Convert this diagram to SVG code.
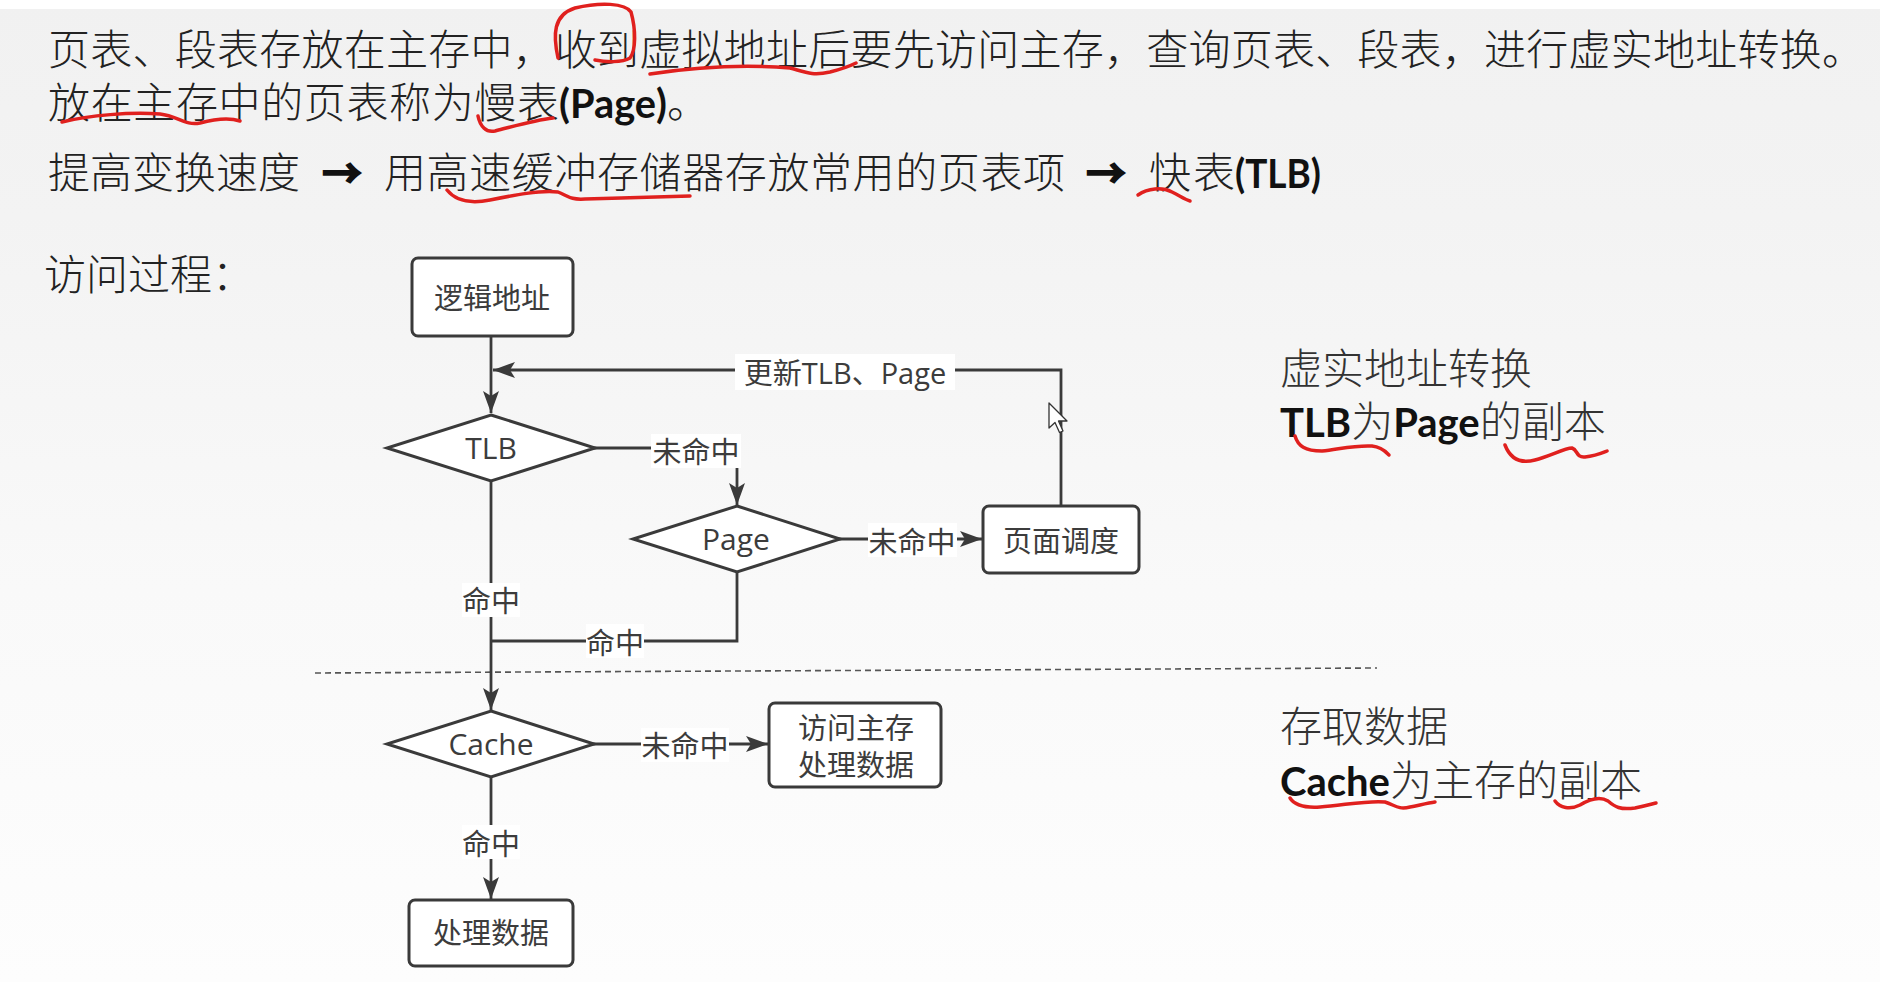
<svg xmlns="http://www.w3.org/2000/svg" width="1880" height="982" viewBox="0 0 1880 982">
  <defs>
    <linearGradient id="bg" x1="0" y1="0" x2="0" y2="982" gradientUnits="userSpaceOnUse">
      <stop offset="0" stop-color="#f1f1f1"/>
      <stop offset="0.22" stop-color="#f3f3f3"/>
      <stop offset="0.6" stop-color="#f9f9f9"/>
      <stop offset="1" stop-color="#fdfdfd"/>
    </linearGradient>
    <marker id="arrow" markerUnits="userSpaceOnUse" markerWidth="24" markerHeight="18" refX="22" refY="8" orient="auto">
      <path d="M0,0 L22,8 L0,16 L5,8 z" fill="#3a3a3a"/>
    </marker>
    <style>
      .body { font-family: "Noto Sans CJK SC", sans-serif; font-size: 42px; font-weight: 300; fill: #222; }
      .side { font-family: "Noto Sans CJK SC", sans-serif; font-size: 42px; font-weight: 300; fill: #333; }
      .bold { font-family: Lato, "Noto Sans CJK SC", sans-serif; font-weight: 700; fill: #111; }
      .arrowchar { font-family: "Noto Sans CJK SC", sans-serif; font-size: 40px; font-weight: 700; fill: #111; stroke: #111; stroke-width: 1.6; }
      .box { fill: #ffffff; stroke: #3a3a3a; stroke-width: 3; }
      .diamond { fill: #ffffff; stroke: #3a3a3a; stroke-width: 3; stroke-linejoin: miter; }
      .nt { font-family: "Open Sans", "Noto Sans CJK SC", sans-serif; font-size: 29px; fill: #3c3c3c; text-anchor: middle; dominant-baseline: central; }
      .nl { font-family: "Open Sans", "Noto Sans CJK SC", sans-serif; font-size: 30px; fill: #3c3c3c; text-anchor: middle; dominant-baseline: central; }
      .edge { fill: none; stroke: #3a3a3a; stroke-width: 2.8; }
      .lblbg { fill: #ffffff; }
      .lbl { font-family: "Open Sans", "Noto Sans CJK SC", sans-serif; font-size: 29px; fill: #3c3c3c; text-anchor: middle; dominant-baseline: central; }
      .ink { fill: none; stroke: #e0201e; stroke-width: 3.5; stroke-linecap: round; stroke-linejoin: round; }
    </style>
  </defs>

  <!-- slide background -->
  <rect x="0" y="0" width="1880" height="982" fill="#ffffff"/>
  <rect x="0" y="9" width="1880" height="973" fill="url(#bg)"/>

  <!-- heading paragraph -->
  <g id="intro">
    <text class="body" x="48" y="65" textLength="1816" lengthAdjust="spacing">页表、段表存放在主存中，收到虚拟地址后要先访问主存，查询页表、段表，进行虚实地址转换。</text>
    <text class="body" y="118"><tspan x="48" textLength="511" lengthAdjust="spacing">放在主存中的页表称为慢表</tspan><tspan class="bold" x="559" font-size="40" textLength="108" lengthAdjust="spacingAndGlyphs">(Page)</tspan><tspan x="667">。</tspan></text>
    <text class="body" y="188"><tspan x="48" textLength="252" lengthAdjust="spacing">提高变换速度</tspan><tspan class="arrowchar" x="322">→</tspan><tspan x="384" textLength="681" lengthAdjust="spacing">用高速缓冲存储器存放常用的页表项</tspan><tspan class="arrowchar" x="1086">→</tspan><tspan x="1149" textLength="86" lengthAdjust="spacing">快表</tspan><tspan class="bold" x="1235" font-size="40" textLength="86" lengthAdjust="spacingAndGlyphs">(TLB)</tspan></text>
    <text class="body" x="44" y="290">访问过程：</text>
  </g>

  <!-- side notes -->
  <g id="note-translate">
    <text class="side" x="1280" y="384">虚实地址转换</text>
    <text class="side" x="1280" y="437"><tspan class="bold" font-size="40">TLB</tspan>为<tspan class="bold" font-size="40">Page</tspan>的副本</text>
  </g>
  <g id="note-access">
    <text class="side" x="1280" y="742">存取数据</text>
    <text class="side" x="1280" y="796"><tspan class="bold" font-size="40">Cache</tspan>为主存的副本</text>
  </g>

  <!-- dashed separator between translation and data access -->
  <line x1="315" y1="673" x2="1377" y2="668" stroke="#555" stroke-width="1.6" stroke-dasharray="6 4"/>

  <!-- connectors -->
  <g id="connectors">
    <path class="edge" d="M491,336 V413" marker-end="url(#arrow)"/>
    <path class="edge" d="M1061,506 V370 H493" marker-end="url(#arrow)"/>
    <path class="edge" d="M594,448 H737 V505" marker-end="url(#arrow)"/>
    <path class="edge" d="M839,539 H982" marker-end="url(#arrow)"/>
    <path class="edge" d="M491,482 V710" marker-end="url(#arrow)"/>
    <path class="edge" d="M737,572 V641 H491"/>
    <path class="edge" d="M593,744 H768" marker-end="url(#arrow)"/>
    <path class="edge" d="M491,777 V899" marker-end="url(#arrow)"/>

    <g id="label-update">
      <rect class="lblbg" x="735" y="354" width="220" height="36"/>
      <text class="lbl" x="845" y="372" font-size="30">更新TLB、Page</text>
    </g>
    <g id="label-tlb-miss">
      <rect class="lblbg" x="651" y="434" width="90" height="34"/>
      <text class="lbl" x="696" y="451">未命中</text>
    </g>
    <g id="label-page-miss">
      <rect class="lblbg" x="868" y="523" width="89" height="34"/>
      <text class="lbl" x="912" y="541">未命中</text>
    </g>
    <g id="label-tlb-hit">
      <rect class="lblbg" x="462" y="583" width="58" height="34"/>
      <text class="lbl" x="491" y="600">命中</text>
    </g>
    <g id="label-page-hit">
      <rect class="lblbg" x="586" y="624" width="58" height="34"/>
      <text class="lbl" x="615" y="642">命中</text>
    </g>
    <g id="label-cache-miss">
      <rect class="lblbg" x="641" y="728" width="88" height="34"/>
      <text class="lbl" x="685" y="745">未命中</text>
    </g>
    <g id="label-cache-hit">
      <rect class="lblbg" x="462" y="825" width="58" height="34"/>
      <text class="lbl" x="491" y="843">命中</text>
    </g>
  </g>

  <!-- nodes -->
  <g id="node-logical">
    <rect class="box" x="412" y="258" width="161" height="78" rx="6"/>
    <text class="nt" x="492" y="297">逻辑地址</text>
  </g>
  <g id="node-tlb">
    <polygon class="diamond" points="491,415 595,448 491,481 387,448"/>
    <text class="nl" x="491" y="447">TLB</text>
  </g>
  <g id="node-page">
    <polygon class="diamond" points="737,506 840,539 737,572 633,539"/>
    <text class="nl" x="736" y="538">Page</text>
  </g>
  <g id="node-swap">
    <rect class="box" x="983" y="506" width="156" height="67" rx="6"/>
    <text class="nt" x="1061" y="540">页面调度</text>
  </g>
  <g id="node-cache">
    <polygon class="diamond" points="491,711 594,744 491,777 387,744"/>
    <text class="nl" x="491" y="743">Cache</text>
  </g>
  <g id="node-memory">
    <rect class="box" x="769" y="703" width="172" height="84" rx="6"/>
    <text class="nt" x="856" y="727">访问主存</text>
    <text class="nt" x="856" y="764">处理数据</text>
  </g>
  <g id="node-process">
    <rect class="box" x="409" y="900" width="164" height="66" rx="6"/>
    <text class="nt" x="491" y="932">处理数据</text>
  </g>

  <!-- mouse pointer -->
  <path d="M1049,403 L1049,428 L1055,422.5 L1059.5,432.5 L1063,431 L1058.5,421 L1067,421 Z" fill="#ffffff" stroke="#333" stroke-width="1.3" stroke-linejoin="round"/>

  <!-- red pen marks -->
  <g id="pen-marks">
    <path class="ink" d="M558,58 C553,35 553,15 575,8 C600,2 625,3 631,12 C636,30 636,50 630,58 C622,63 605,62 595,60"/>
    <path class="ink" d="M650,74 C690,68 740,64 790,68 C805,72 812,76 830,72 C842,69 850,66 856,63"/>
    <path class="ink" d="M62,122 C90,115 130,112 160,114 C178,116 185,126 200,123 C215,119 228,117 240,121"/>
    <path class="ink" d="M478,116 C480,126 486,133 495,131 C515,126 535,120 553,118"/>
    <path class="ink" d="M447,190 C455,200 470,204 490,200 C515,195 540,190 558,192 C568,196 570,200 585,199 C620,198 660,197 690,196"/>
    <path class="ink" d="M1138,195 C1148,188 1162,187 1172,192 C1180,196 1186,200 1190,201"/>
    <path class="ink" d="M1295,436 C1298,446 1305,451 1322,451 C1340,449 1355,445 1372,446 C1382,447 1386,452 1389,455"/>
    <path class="ink" d="M1505,445 C1510,458 1520,464 1535,460 C1550,456 1565,448 1572,448 C1578,450 1576,458 1585,457 C1595,456 1602,453 1607,451"/>
    <path class="ink" d="M1290,798 C1295,806 1305,808 1320,807 C1345,805 1370,800 1385,802 C1395,805 1398,810 1410,807 C1420,805 1428,803 1435,802"/>
    <path class="ink" d="M1555,801 C1560,808 1570,810 1580,805 C1590,799 1600,796 1608,801 C1615,807 1620,810 1635,808 C1645,806 1652,804 1656,803"/>
  </g>
</svg>
